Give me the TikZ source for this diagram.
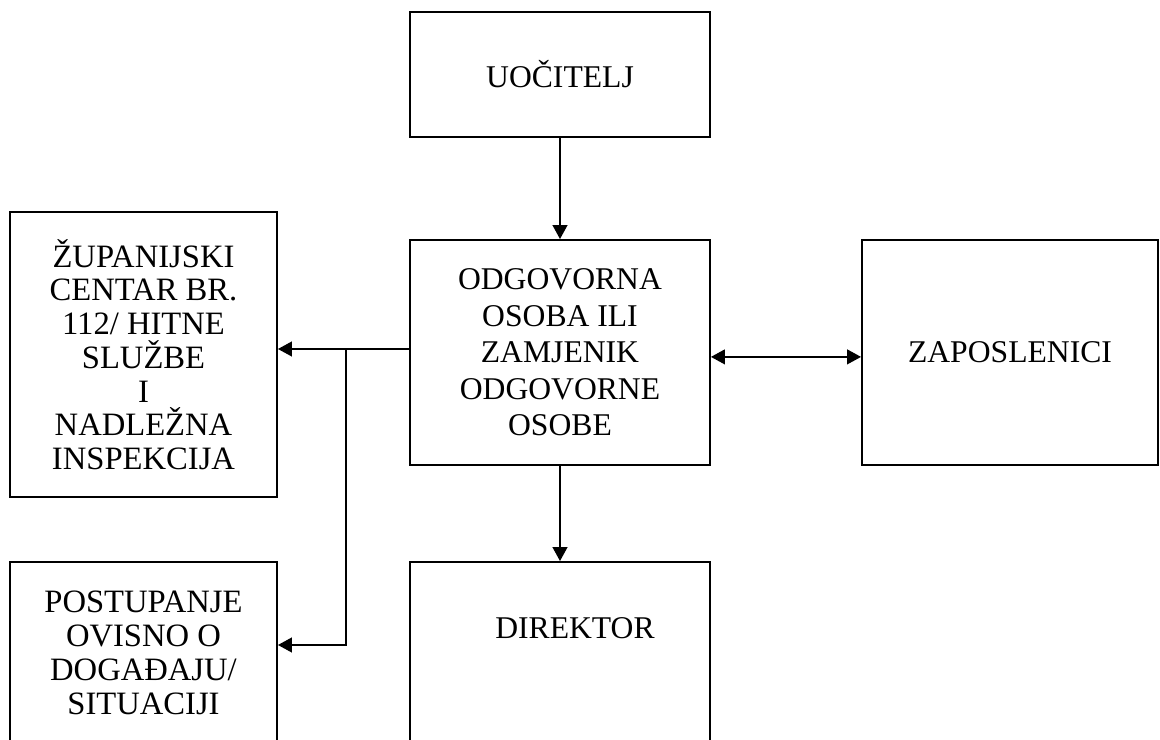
\documentclass[tikz,border=0pt]{standalone}
\usepackage{fontspec}
\setmainfont{Liberation Serif}
\usetikzlibrary{arrows.meta}

\tikzset{
	box/.style={shape=rectangle,draw=black,line width=1.3pt,align=center,minimum width=7.5cm,font=\fontsize{22.5}{24.3}\selectfont},
	txt/.style={align=center,font=\fontsize{22.5}{24.3}\selectfont},
	arr/.style={line width=1.3pt,-{Triangle[length=0.35cm,width=0.37cm]}},
	darr/.style={line width=1.3pt,{Triangle[length=0.35cm,width=0.37cm]}-{Triangle[length=0.35cm,width=0.37cm]}},
	lin/.style={line width=1.3pt}
}

\begin{document}
\begin{tikzpicture}[x=0.025cm,y=-0.025cm]

	\useasboundingbox (0,0) rectangle (1160,740);
	\clip (0,0) rectangle (1160,740);

	\node[box,minimum height=3.125cm] (uocitelj) at (560,74.5) {UOČITELJ};
	\node[box,minimum height=5.625cm,font=\fontsize{22.5}{26}\selectfont] (odgovorna) at (560,352.5) {ODGOVORNA\\OSOBA ILI\\ZAMJENIK\\ODGOVORNE\\OSOBE};
	\node[box,minimum width=7.4cm,minimum height=5.625cm] (zaposlenici) at (1010,352.5) {ZAPOSLENICI};
	\node[box,minimum width=6.675cm,minimum height=7.125cm,font=\fontsize{23.2}{24}\selectfont] (zupanijski) at (143.5,354.5) {ŽUPANIJSKI\\CENTAR BR.\\112/ HITNE\\SLUŽBE\\I\\NADLEŽNA\\INSPEKCIJA};
	\node[box,minimum width=6.675cm,minimum height=4.55cm,font=\fontsize{23.2}{24.3}\selectfont] (postupanje) at (143.5,653) {POSTUPANJE\\OVISNO O\\DOGAĐAJU/\\SITUACIJI};
	\node[box,minimum height=5cm] (direktor) at (560,662) {};
	\node[txt] (direktortxt) at (575,628) {DIREKTOR};

	\coordinate (split) at (346,349);
	\coordinate (bend) at (346,645);

	\path[arr] (uocitelj) edge (odgovorna);
	\path[arr] (odgovorna) edge (direktor);
	\path[darr] ([yshift=-0.11cm]odgovorna.east) edge ([yshift=-0.11cm]zaposlenici.west);
	\path[lin] (odgovorna.west |- split) edge (split);
	\path[arr] (split) edge (zupanijski.east |- split);
	\draw[arr] (split) -- (bend) -- (postupanje.east |- bend);
	\end{tikzpicture}
\end{document}
